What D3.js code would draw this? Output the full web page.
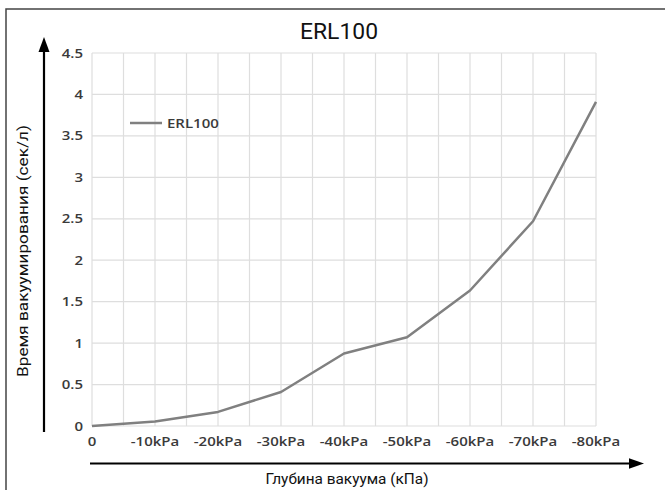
<!DOCTYPE html>
<html><head><meta charset="utf-8">
<script src="https://cdn.jsdelivr.net/npm/d3@7"></script>
<style>body{margin:0;background:#fff}svg{display:block}</style>
</head><body>
<script>
const title = "ERL100";
const seriesName = "ERL100";
const categories = [0, -10, -20, -30, -40, -50, -60, -70, -80];
const xTickLabels = ["0", "-10kPa", "-20kPa", "-30kPa", "-40kPa", "-50kPa", "-60kPa", "-70kPa", "-80kPa"];
const values = [0, 0.055, 0.17, 0.41, 0.875, 1.07, 1.635, 2.47, 3.91];
const yTicks = [0, 0.5, 1, 1.5, 2, 2.5, 3, 3.5, 4, 4.5];
const xLabel = "Глубина вакуума (кПа)";
const yLabel = "Время вакуумирования (сек/л)";

const W = 665, H = 490;
const svg = d3.select("body").append("svg").attr("width", W).attr("height", H);

// outer frame (left & top)
svg.append("path").attr("d", `M6,${H} L6,9 L${W},9`).attr("fill", "none").attr("stroke", "#444").attr("stroke-width", 1.5);

const x = d3.scaleLinear().domain([0, -80]).range([92, 596]);
const y = d3.scaleLinear().domain([0, 4.5]).range([426, 53]);

const grid = svg.append("g").attr("stroke", "#dedede").attr("stroke-width", 1.2);
d3.range(0, -85, -5).forEach(v => {
  grid.append("line").attr("x1", x(v)).attr("x2", x(v)).attr("y1", y(0)).attr("y2", y(4.5));
});
yTicks.forEach(v => {
  grid.append("line").attr("x1", x(0)).attr("x2", x(-80)).attr("y1", y(v)).attr("y2", y(v));
});

const tickFont = "'Open Sans', sans-serif";
const SX = 1.22;
svg.append("g").selectAll("text").data(yTicks).join("text")
  .attr("transform", d => `translate(83,${y(d) + 4.5}) scale(${SX},1)`).attr("text-anchor", "end")
  .attr("font-family", tickFont).attr("font-size", 12.3).attr("font-weight", 600).attr("fill", "#3a3a3a")
  .text(d => d);
svg.append("g").selectAll("text").data(categories).join("text")
  .attr("transform", d => `translate(${x(d)},446) scale(${SX},1)`).attr("text-anchor", "middle")
  .attr("font-family", tickFont).attr("font-size", 12.3).attr("font-weight", 600).attr("fill", "#3a3a3a")
  .text((d, i) => xTickLabels[i]);

const line = d3.line().x((d, i) => x(categories[i])).y(d => y(d));
svg.append("path").datum(values).attr("d", line).attr("fill", "none")
  .attr("stroke", "#808080").attr("stroke-width", 2.5).attr("stroke-linejoin", "round");

// legend
svg.append("line").attr("x1", 130).attr("x2", 162).attr("y1", 123).attr("y2", 123)
  .attr("stroke", "#808080").attr("stroke-width", 2.5);
svg.append("text").attr("transform", `translate(167,127.5) scale(${SX},1)`).attr("font-family", tickFont)
  .attr("font-size", 12.3).attr("font-weight", 600).attr("fill", "#3a3a3a").text(seriesName);

// title
svg.append("text").attr("x", 339).attr("y", 39).attr("text-anchor", "middle")
  .attr("font-family", "Roboto, sans-serif").attr("font-size", 22.5).attr("fill", "#111")
  .attr("textLength", 78).attr("lengthAdjust", "spacingAndGlyphs").text(title);

// arrows
svg.append("line").attr("x1", 44).attr("x2", 44).attr("y1", 432).attr("y2", 50).attr("stroke", "#000").attr("stroke-width", 2.2);
svg.append("path").attr("d", "M44,37 L49.5,52 L38.5,52 Z").attr("fill", "#000");
svg.append("line").attr("x1", 90).attr("x2", 632).attr("y1", 463.5).attr("y2", 463.5).attr("stroke", "#000").attr("stroke-width", 2.2);
svg.append("path").attr("d", "M644,463.5 L629,458.3 L629,468.7 Z").attr("fill", "#000");

// axis labels
svg.append("text").attr("x", 347).attr("y", 484).attr("text-anchor", "middle")
  .attr("font-family", "Roboto, sans-serif").attr("font-size", 15.5).attr("fill", "#111")
  .attr("textLength", 163).attr("lengthAdjust", "spacingAndGlyphs").text(xLabel);
svg.append("text").attr("transform", "translate(28,251) rotate(-90)").attr("text-anchor", "middle")
  .attr("font-family", "Roboto, sans-serif").attr("font-size", 15.5).attr("fill", "#111")
  .attr("textLength", 252).attr("lengthAdjust", "spacingAndGlyphs").text(yLabel);
</script>
</body></html>
